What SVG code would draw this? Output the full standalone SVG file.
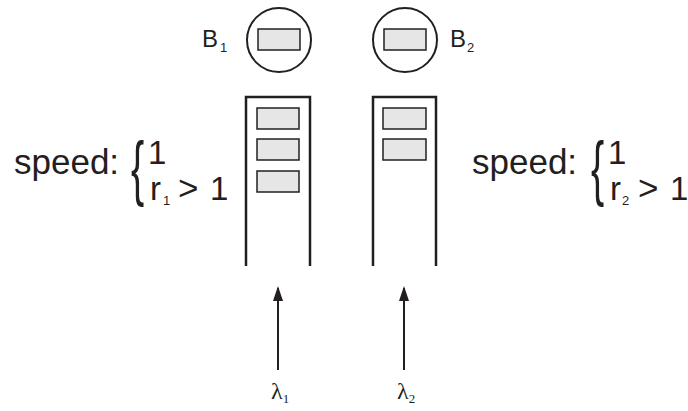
<svg xmlns="http://www.w3.org/2000/svg" width="688" height="411" viewBox="0 0 688 411">
<style>
.q{fill:none;stroke:#231f20;stroke-width:2.5}
.pkt{fill:#e6e6e6;stroke:#231f20;stroke-width:1.5}
.srv{fill:#fff;stroke:#231f20;stroke-width:2}
.t{font-family:"Liberation Sans",Arial,sans-serif;fill:#231f20}
.s{font-family:"Liberation Serif","Times New Roman",serif;fill:#231f20}
.a{stroke:#231f20;stroke-width:2;fill:none}
</style>
<defs>
<marker id="ah" viewBox="0 0 15 10" refX="13" refY="5" markerWidth="15" markerHeight="10" markerUnits="userSpaceOnUse" orient="auto">
<path d="M0,0 L15,5 L0,10 Z" fill="#231f20"/>
</marker>
</defs>
<rect width="688" height="411" fill="#fff"/>
<g id="server1">
<circle class="srv" cx="279" cy="40" r="32"/>
<rect class="pkt" x="258" y="29" width="42" height="21"/>
<text class="t" x="202" y="47" font-size="24">B<tspan font-size="13" dx="2" dy="5">1</tspan></text>
</g>
<g id="server2">
<circle class="srv" cx="405" cy="40" r="32"/>
<rect class="pkt" x="384" y="29" width="42" height="21"/>
<text class="t" x="450" y="47" font-size="24">B<tspan font-size="13" dx="1" dy="5">2</tspan></text>
</g>
<g id="queue1">
<path class="q" d="M246,266 V97 H310 V266"/>
<rect class="pkt" x="257" y="108" width="42" height="21"/>
<rect class="pkt" x="257" y="139" width="42" height="21"/>
<rect class="pkt" x="257" y="171" width="42" height="21"/>
</g>
<g id="queue2">
<path class="q" d="M373,266 V97 H436 V266"/>
<rect class="pkt" x="383" y="108" width="43" height="21"/>
<rect class="pkt" x="383" y="139" width="43" height="21"/>
</g>
<g id="speed1">
<text class="t" x="14" y="174" font-size="35">speed:</text>
<text class="t" transform="translate(131,192) scale(0.55,1)" font-size="72">{</text>
<text class="t" x="148" y="164" font-size="33">1</text>
<text class="t" x="150" y="200" font-size="33">r</text>
<text class="t" x="163" y="205" font-size="13">1</text>
<text class="t" x="178" y="200" font-size="35">&gt;</text>
<text class="t" x="210" y="200" font-size="33">1</text>
</g>
<g id="speed2">
<text class="t" x="472" y="174" font-size="35">speed:</text>
<text class="t" transform="translate(591,192) scale(0.55,1)" font-size="72">{</text>
<text class="t" x="608" y="164" font-size="33">1</text>
<text class="t" x="610" y="200" font-size="33">r</text>
<text class="t" x="622" y="205" font-size="13">2</text>
<text class="t" x="638" y="200" font-size="35">&gt;</text>
<text class="t" x="670" y="200" font-size="33">1</text>
</g>
<g id="connectors">
<line class="a" x1="278" y1="370" x2="278" y2="288" marker-end="url(#ah)"/>
<line class="a" x1="404" y1="370" x2="404" y2="288" marker-end="url(#ah)"/>
</g>
<g id="labels">
<text class="s" x="271" y="399" font-size="24">λ<tspan font-size="13" dy="4">1</tspan></text>
<text class="s" x="397" y="399" font-size="24">λ<tspan font-size="13" dy="4">2</tspan></text>
</g>
</svg>
